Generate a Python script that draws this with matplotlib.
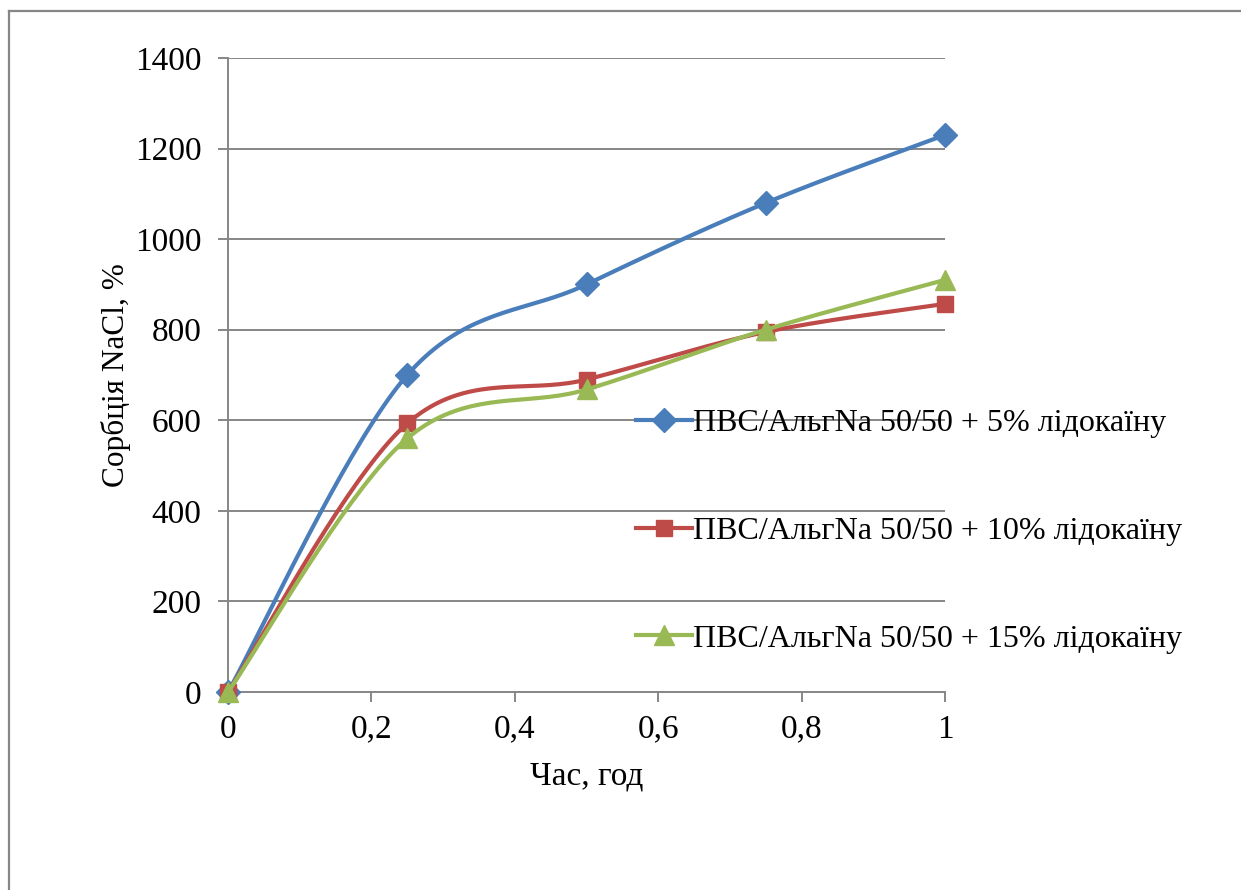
import numpy as np
import matplotlib
matplotlib.use("Agg")
import matplotlib.pyplot as plt
from matplotlib.lines import Line2D

plt.rcParams['font.family'] = ['Liberation Serif', 'DejaVu Serif']

time_h = [0, 0.25, 0.5, 0.75, 1.0]
s5 = [0, 700, 900, 1080, 1230]
s10 = [0, 593, 690, 795, 857]
s15 = [0, 560, 668, 800, 910]
labels = ["ПВС/АльгNa 50/50 + 5% лідокаїну",
          "ПВС/АльгNa 50/50 + 10% лідокаїну",
          "ПВС/АльгNa 50/50 + 15% лідокаїну"]
colors = ["#4A7EBB", "#BE4B48", "#98B954"]
markers = ["D", "s", "^"]
msizes = [12, 12, 14]
yticks = [0, 200, 400, 600, 800, 1000, 1200, 1400]
xticks = [0, 0.2, 0.4, 0.6, 0.8, 1.0]
xticklabels = ["0", "0,2", "0,4", "0,6", "0,8", "1"]

W, H = 1241, 890
fig = plt.figure(figsize=(W / 100, H / 100), dpi=100)
# outer chart border (top and left edges visible; right/bottom are cut off)
fig.add_artist(Line2D([8.5 / W, 1.0], [1 - 10.5 / H, 1 - 10.5 / H], transform=fig.transFigure,
                      color="#868686", lw=1.6))
fig.add_artist(Line2D([8.5 / W, 8.5 / W], [0, 1 - 10.5 / H], transform=fig.transFigure,
                      color="#868686", lw=1.6))
ax = fig.add_axes([228 / W, 1 - 692 / H, (945 - 228) / W, (692 - 58) / H])


def smooth(x, y, n=40):
    x = np.asarray(x, float)
    y = np.asarray(y, float)
    px = np.concatenate([[x[0]], x, [x[-1]]])
    py = np.concatenate([[y[0]], y, [y[-1]]])
    xs, ys = [], []
    t = np.linspace(0, 1, n)
    for i in range(1, len(px) - 2):
        p0x, p1x, p2x, p3x = px[i - 1], px[i], px[i + 1], px[i + 2]
        p0y, p1y, p2y, p3y = py[i - 1], py[i], py[i + 1], py[i + 2]
        c1x, c1y = p1x + (p2x - p0x) / 6, p1y + (p2y - p0y) / 6
        c2x, c2y = p2x - (p3x - p1x) / 6, p2y - (p3y - p1y) / 6
        bx = (1 - t) ** 3 * p1x + 3 * (1 - t) ** 2 * t * c1x + 3 * (1 - t) * t ** 2 * c2x + t ** 3 * p2x
        by = (1 - t) ** 3 * p1y + 3 * (1 - t) ** 2 * t * c1y + 3 * (1 - t) * t ** 2 * c2y + t ** 3 * p2y
        xs.append(bx)
        ys.append(by)
    return np.concatenate(xs), np.concatenate(ys)


handles = []
for i, (ser, c, m, ms) in enumerate(zip([s5, s10, s15], colors, markers, msizes)):
    sx, sy = smooth(time_h, ser)
    ax.plot(sx, sy, color=c, lw=3.0, zorder=3 + i, clip_on=False, solid_capstyle='round')
    ax.plot(time_h, ser, linestyle='none', marker=m, markersize=ms, color=c,
            markeredgecolor=c, zorder=3 + i, clip_on=False)
    handles.append(Line2D([], [], color=c, lw=3.0, marker=m, markersize=ms,
                          markeredgecolor=c))

ax.set_xlim(0, 1)
ax.set_ylim(0, 1400)
ax.set_yticks(yticks)
ax.set_xticks(xticks)
ax.set_xticklabels(xticklabels)
ax.yaxis.grid(True, color="#868686", lw=1.4)
ax.set_axisbelow(True)
for s in ["top", "right"]:
    ax.spines[s].set_visible(False)
for s in ["left", "bottom"]:
    ax.spines[s].set_color("#868686")
    ax.spines[s].set_linewidth(1.4)
ax.tick_params(axis='both', direction='out', length=7, width=1.4, color="#868686",
               labelsize=24, labelcolor="black")
ax.tick_params(axis='y', pad=12)
ax.tick_params(axis='x', pad=9)
ax.set_xlabel("Час, год", fontsize=24, labelpad=12)
ax.set_ylabel("Сорбція NaCl, %", fontsize=22.5, labelpad=3)

leg = fig.legend(handles, labels, loc='upper left', bbox_to_anchor=(620 / W, 1 - 393 / H),
                 frameon=False, fontsize=23, handlelength=1.75, handletextpad=0.05,
                 labelspacing=2.45, borderpad=0)

fig.savefig("out.png", dpi=100)
